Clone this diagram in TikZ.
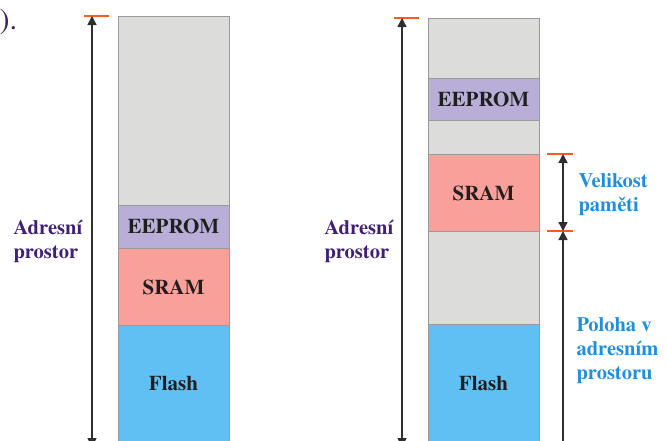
\documentclass[tikz,border=0pt]{standalone}
\usepackage{fontspec}
\setmainfont{texgyretermes}[Extension=.otf,UprightFont=*-regular,BoldFont=*-bold,ItalicFont=*-italic,BoldItalicFont=*-bolditalic]
\usetikzlibrary{arrows.meta}
\definecolor{boxgray}{HTML}{DCDCDB}
\definecolor{boxedge}{HTML}{9A9A9A}
\definecolor{eeprom}{HTML}{B9AED8}
\definecolor{sram}{HTML}{F9A09A}
\definecolor{flash}{HTML}{60C0F4}
\definecolor{labpurple}{HTML}{3F1F78}
\definecolor{labblue}{HTML}{1E8FE0}
\definecolor{tickred}{HTML}{FF5A1E}
\definecolor{arrowgray}{HTML}{2E2E2E}
\begin{document}
\begin{tikzpicture}[x=1pt,y=-1pt,
  seg/.style={draw=boxedge,line width=0.8pt},
  memtext/.style={font=\rmfamily\bfseries\fontsize{21}{24}\selectfont,text=black!88},
  lab/.style={font=\rmfamily\bfseries\fontsize{20.5}{24}\selectfont,align=left,anchor=west},
  tick/.style={draw=tickred,line width=1.3pt},
  dim/.style={draw=arrowgray,line width=1.4pt,{Triangle[length=9pt,width=9pt]}-{Triangle[length=9pt,width=9pt]}},
  dimup/.style={draw=arrowgray,line width=1.4pt,{Triangle[length=9pt,width=9pt]}-}]
\useasboundingbox (0,0) rectangle (667,440);
% left column
\filldraw[seg,fill=boxgray] (118,16) rectangle (229,205);
\filldraw[seg,fill=eeprom] (118,205) rectangle (229,248);
\filldraw[seg,fill=sram] (118,248) rectangle (229,325);
\filldraw[seg,fill=flash] (118,325) rectangle (229,450);
\node[memtext] (le) at (173.5,226) {EEPROM};
\node[memtext] (ls) at (173.5,287) {SRAM};
\node[memtext] (lf) at (173.5,384) {Flash};
\coordinate (ltop) at (92,16);
\coordinate (lbot) at (92,447);
\draw[tick] (84,16) -- (109,16);
\draw[dim] (ltop) -- (lbot);
\node[lab,text=labpurple] (la) at (10,241) {Adresní\\prostor};
\node[font=\rmfamily\fontsize{30}{30}\selectfont,text=labpurple,anchor=west] (paren) at (-4,22) {).};
% right column
\filldraw[seg,fill=boxgray] (428,18) rectangle (539,78);
\filldraw[seg,fill=eeprom] (428,78) rectangle (539,120);
\filldraw[seg,fill=boxgray] (428,120) rectangle (539,154);
\filldraw[seg,fill=sram] (428,154) rectangle (539,231);
\filldraw[seg,fill=boxgray] (428,231) rectangle (539,324);
\filldraw[seg,fill=flash] (428,324) rectangle (539,450);
\node[memtext] (re) at (483.5,99) {EEPROM};
\node[memtext] (rs) at (483.5,193) {SRAM};
\node[memtext] (rf) at (483.5,384) {Flash};
\coordinate (rtop) at (402,18);
\coordinate (rbot) at (402,447);
\draw[tick] (394,18) -- (419,18);
\draw[dim] (rtop) -- (rbot);
\node[lab,text=labpurple] (ra) at (321,241) {Adresní\\prostor};
% size / position dimensions
\coordinate (s1) at (563,154);
\coordinate (s2) at (563,231);
\coordinate (s3) at (563,460);
\draw[tick] (547,154) -- (573,154);
\draw[tick] (547,231) -- (573,231);
\draw[dim] (s1) -- (s2);
\draw[dimup] (s2) -- (s3);
\node[lab,text=labblue] (vel) at (575,195) {Velikost\\paměti};
\node[lab,text=labblue] (pol) at (573,351) {Poloha v\\adresním\\prostoru};
\end{tikzpicture}
\end{document}
